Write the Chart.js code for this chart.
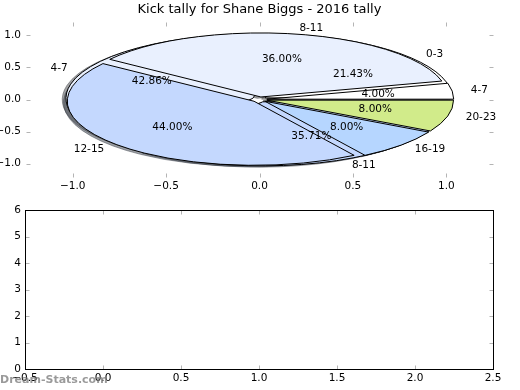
<!DOCTYPE html>
<html>
<head>
<meta charset="utf-8">
<script src="https://cdn.jsdelivr.net/npm/chart.js@4.4.0/dist/chart.umd.min.js"></script>
<style>
  html, body { margin: 0; padding: 0; background: #fff; }
  #page { position: relative; width: 520px; height: 390px; overflow: hidden; }
  .box { position: absolute; left: 0; width: 520px; }
  #topBox { top: 0; height: 200px; }
  #bottomBox { top: 200px; height: 190px; }
  #mark { position: absolute; left: 0; top: 374px; font: bold 11px "DejaVu Sans", sans-serif;
          line-height: 11px; color: rgba(120, 120, 120, 0.75); }
</style>
</head>
<body>
<div id="page">
  <div class="box" id="topBox"><canvas id="pieChart" width="520" height="200"></canvas></div>
  <div class="box" id="bottomBox"><canvas id="emptyChart" width="520" height="190"></canvas></div>
  <div id="mark">Dream-Stats.com</div>
</div>
<script>
const FONT = '"DejaVu Sans", sans-serif';
const SMALL = 10.5;
Chart.defaults.font.family = FONT;
Chart.defaults.font.size = SMALL;
Chart.defaults.color = '#000';

const chartTitle = 'Kick tally for Shane Biggs - 2016 tally';

// pie drawn on top
const mainRanges = ['4-7', '8-11', '12-15', '16-19', '20-23'];
const mainKicks = [1, 9, 11, 2, 2];
// pie underneath (mostly hidden)
const underRanges = ['0-3', '4-7', '8-11'];
const underKicks = [3, 6, 5];

const sliceColors = ['#ffffff', '#e9f0fe', '#c4d8fe', '#b6d6ff', '#d1eb8a'];

const pieTicks = [-1.0, -0.5, 0.0, 0.5, 1.0];
const lowerXTicks = [-0.5, 0.0, 0.5, 1.0, 1.5, 2.0, 2.5];
const lowerYTicks = [0, 1, 2, 3, 4, 5, 6];

const EXPLODE = 0.04;
const LABEL_DIST = 1.1;
const PCT_DIST = 0.6;
const SHADOW = 0.02;

function wedges(values) {
  const total = values.reduce((a, b) => a + b, 0);
  let start = 0;
  return values.map(v => {
    const sweep = 360 * v / total;
    const mid = (start + sweep / 2) * Math.PI / 180;
    const w = { t1: start, t2: start + sweep, mid: mid, frac: v / total,
                cx: EXPLODE * Math.cos(mid), cy: EXPLODE * Math.sin(mid) };
    start += sweep;
    return w;
  });
}

function shade(hex) {
  const n = parseInt(hex.slice(1), 16);
  const r = Math.round(((n >> 16) & 255) * 0.3);
  const g = Math.round(((n >> 8) & 255) * 0.3);
  const b = Math.round((n & 255) * 0.3);
  return 'rgba(' + r + ',' + g + ',' + b + ',0.5)';
}

function fmtTick(v, digits) {
  return Number(v).toFixed(digits).replace('-', '\u2212');
}

// draws both pies through the x/y scales, so the pie follows the axes aspect
const piePlugin = {
  id: 'pieOverlay',
  afterDatasetsDraw(chart) {
    const { ctx, chartArea: a, scales: { x, y } } = chart;
    const rx = x.getPixelForValue(1) - x.getPixelForValue(0);
    const ry = y.getPixelForValue(0) - y.getPixelForValue(1);
    const layers = [
      { w: wedges(underKicks), labels: underRanges },
      { w: wedges(mainKicks), labels: mainRanges }
    ];
    const path = (wd, dx, dy) => {
      const pcx = x.getPixelForValue(wd.cx + dx);
      const pcy = y.getPixelForValue(wd.cy + dy);
      ctx.beginPath();
      ctx.moveTo(pcx, pcy);
      ctx.ellipse(pcx, pcy, rx, ry, 0, -wd.t1 * Math.PI / 180, -wd.t2 * Math.PI / 180, true);
      ctx.closePath();
    };
    ctx.save();
    ctx.lineWidth = 1;
    // shadows sit below every wedge
    layers.forEach(layer => layer.w.forEach((wd, i) => {
      path(wd, -SHADOW, -SHADOW);
      ctx.fillStyle = shade(sliceColors[i]);
      ctx.strokeStyle = shade(sliceColors[i]);
      ctx.fill();
      ctx.stroke();
    }));
    layers.forEach(layer => layer.w.forEach((wd, i) => {
      path(wd, 0, 0);
      ctx.fillStyle = sliceColors[i];
      ctx.strokeStyle = '#000';
      ctx.fill();
      ctx.stroke();
    }));
    ctx.fillStyle = '#000';
    ctx.font = SMALL + 'px ' + FONT;
    ctx.textBaseline = 'middle';
    layers.forEach(layer => layer.w.forEach((wd, i) => {
      const lx = wd.cx + LABEL_DIST * Math.cos(wd.mid);
      const ly = wd.cy + LABEL_DIST * Math.sin(wd.mid);
      ctx.textAlign = lx > 0 ? 'left' : 'right';
      ctx.fillText(layer.labels[i], x.getPixelForValue(lx), y.getPixelForValue(ly));
      const qx = wd.cx + PCT_DIST * Math.cos(wd.mid);
      const qy = wd.cy + PCT_DIST * Math.sin(wd.mid);
      ctx.textAlign = 'center';
      ctx.fillText((wd.frac * 100).toFixed(2) + '%', x.getPixelForValue(qx), y.getPixelForValue(qy));
    }));
    // title centred over the axes
    ctx.font = '13px ' + FONT;
    ctx.textAlign = 'center';
    ctx.fillText(chartTitle, (a.left + a.right) / 2, 10);
    ctx.restore();
  }
};

// matplotlib style ticks pointing inwards on all four sides
const innerTicks = {
  id: 'innerTicks',
  afterDraw(chart, args, opts) {
    const { ctx, chartArea: a, scales: { x, y } } = chart;
    const L = 4;
    const left = Math.round(a.left) + 0.5, right = Math.round(a.right) + 0.5;
    const top = Math.round(a.top) + 0.5, bottom = Math.round(a.bottom) + 0.5;
    ctx.save();
    ctx.lineWidth = 1;
    ctx.strokeStyle = opts.color || '#aaa';
    ctx.beginPath();
    x.ticks.forEach(t => {
      const p = Math.round(x.getPixelForValue(t.value)) + 0.5;
      ctx.moveTo(p, top); ctx.lineTo(p, top + L);
      ctx.moveTo(p, bottom); ctx.lineTo(p, bottom - L);
    });
    y.ticks.forEach(t => {
      const p = Math.round(y.getPixelForValue(t.value)) + 0.5;
      ctx.moveTo(left, p); ctx.lineTo(left + L, p);
      ctx.moveTo(right, p); ctx.lineTo(right - L, p);
    });
    ctx.stroke();
    if (opts.frame) {
      ctx.strokeStyle = '#000';
      ctx.strokeRect(left, top, right - left, bottom - top);
    }
    ctx.restore();
  }
};

function axis(min, max, values, digits, size, padding) {
  return {
    type: 'linear', min: min, max: max,
    grid: { display: false, drawTicks: false },
    border: { display: false },
    afterBuildTicks: ax => { ax.ticks = values.map(v => ({ value: v })); },
    afterFit: ax => {
      if (ax.isHorizontal()) ax.height = size; else ax.width = size;
    },
    ticks: { padding: padding, autoSkip: false, maxRotation: 0,
             color: '#000', font: { size: SMALL },
             callback: v => fmtTick(v, digits) }
  };
}

new Chart(document.getElementById('pieChart'), {
  type: 'scatter',
  data: { datasets: [{ data: [] }] },
  options: {
    responsive: false, animation: false, devicePixelRatio: 1,
    layout: { padding: { top: 22, right: 27, left: 0, bottom: 0 } },
    plugins: {
      legend: { display: false },
      tooltip: { enabled: false },
      innerTicks: { color: '#b4b4b4' }
    },
    scales: {
      x: axis(-1.25, 1.25, pieTicks, 1, 23, 3),
      y: axis(-1.21, 1.21, pieTicks, 1, 26, 5)
    }
  },
  plugins: [piePlugin, innerTicks]
});

new Chart(document.getElementById('emptyChart'), {
  type: 'scatter',
  data: { datasets: [{ data: [] }] },
  options: {
    responsive: false, animation: false, devicePixelRatio: 1,
    layout: { padding: { top: 10, right: 27, left: 0, bottom: 0 } },
    plugins: {
      legend: { display: false },
      tooltip: { enabled: false },
      innerTicks: { color: '#b4b4b4', frame: true }
    },
    scales: {
      x: axis(-0.5, 2.5, lowerXTicks, 1, 21, 3),
      y: axis(0, 6, lowerYTicks, 0, 25, 4)
    }
  },
  plugins: [innerTicks]
});
</script>
</body>
</html>
